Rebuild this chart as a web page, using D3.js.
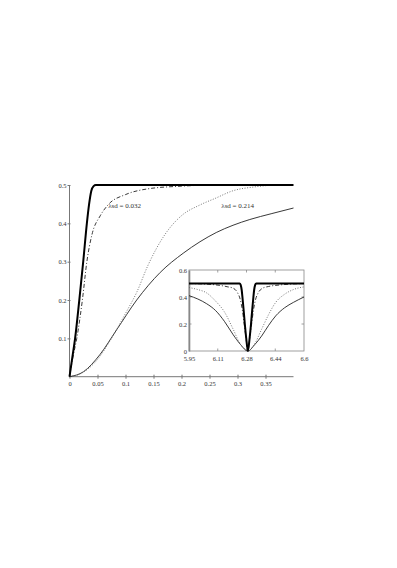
<!DOCTYPE html>
<html>
<head>
<meta charset="utf-8">
<script src="https://cdn.jsdelivr.net/npm/d3@7"></script>
<style>
  body { margin: 0; background: #fff; }
  svg text { font-family: "Liberation Serif", "DejaVu Serif", serif; fill: #333; }
</style>
</head>
<body>
<svg id="chart" width="397" height="568"></svg>
<script>
// main panel: x = detuning, y = value
const mainXTicks = [0, 0.05, 0.1, 0.15, 0.2, 0.25, 0.3, 0.35]
const mainYTicks = [0.1, 0.2, 0.3, 0.4, 0.5]

const mainThick = [[0,0],[0.005,0.05],[0.01,0.1],[0.0175,0.2],[0.0245,0.3],[0.031,0.4],[0.035,0.45],[0.039,0.485],[0.043,0.497],[0.047,0.5],[0.1,0.5],[0.2,0.5],[0.3,0.5],[0.4,0.5]]
const mainDashDot = [[0,0],[0.006,0.05],[0.013,0.1],[0.023,0.2],[0.031,0.3],[0.04,0.37],[0.055,0.42],[0.07,0.45],[0.1,0.475],[0.14,0.49],[0.2,0.497],[0.26,0.5],[0.4,0.5]]
const mainDotted = [[0,0],[0.02,0.008],[0.05,0.045],[0.075,0.1],[0.1,0.165],[0.12,0.22],[0.14,0.29],[0.17,0.37],[0.2,0.42],[0.233,0.448],[0.26,0.465],[0.292,0.485],[0.33,0.495],[0.376,0.5],[0.4,0.5]]
const mainThin = [[0,0],[0.025,0.013],[0.054,0.057],[0.084,0.122],[0.12,0.2],[0.162,0.272],[0.203,0.322],[0.233,0.352],[0.262,0.376],[0.292,0.395],[0.322,0.41],[0.36,0.425],[0.4,0.44]]

// inset panel
const insetXTicks = [5.95, 6.1125, 6.275, 6.4375, 6.6]
const insetXLabels = ["5.95", "6.11", "6.28", "6.44", "6.6"]
const insetYTicks = [0, 0.2, 0.4, 0.6]

const insetThick = [[5.95,0.5],[6.1,0.5],[6.236,0.5],[6.242,0.49],[6.248,0.45],[6.252,0.4],[6.259,0.3],[6.2655,0.2],[6.273,0.1],[6.283,0],[6.293,0.1],[6.3005,0.2],[6.307,0.3],[6.314,0.4],[6.318,0.45],[6.324,0.49],[6.33,0.5],[6.45,0.5],[6.6,0.5]]
const insetDashDot = [[5.95,0.5],[6.1,0.49],[6.17,0.475],[6.2,0.465],[6.225,0.43],[6.24,0.38],[6.252,0.3],[6.262,0.2],[6.272,0.1],[6.283,0],[6.294,0.1],[6.304,0.2],[6.314,0.3],[6.326,0.38],[6.341,0.43],[6.366,0.465],[6.4,0.478],[6.47,0.49],[6.6,0.5]]
const insetDotted = [[5.95,0.47],[6.0,0.455],[6.05,0.43],[6.1,0.37],[6.15,0.29],[6.2,0.16],[6.24,0.05],[6.283,0],[6.32,0.05],[6.36,0.16],[6.40,0.27],[6.44,0.36],[6.49,0.42],[6.54,0.455],[6.6,0.475]]
const insetThin = [[5.95,0.41],[6.0,0.385],[6.05,0.35],[6.1,0.3],[6.15,0.22],[6.2,0.12],[6.24,0.05],[6.283,0],[6.32,0.045],[6.36,0.11],[6.4,0.19],[6.44,0.26],[6.49,0.32],[6.54,0.36],[6.6,0.4]]

const styles = [
  {w: 2, dash: null, col: "#000"},
  {w: 0.9, dash: "4,2,1,2", col: "#222"},
  {w: 0.9, dash: "1,1.6", col: "#666"},
  {w: 0.9, dash: null, col: "#222"}
]

const svg = d3.select("#chart")

// ---- main panel ----
const x = d3.scaleLinear().domain([0, 0.4]).range([69.5, 293.5])
const y = d3.scaleLinear().domain([0, 0.5]).range([376.7, 185])

const axisCol = "#777"

const xAxis = svg.append("g").attr("transform", `translate(0,${y(0)})`)
  .call(d3.axisBottom(x).tickValues(mainXTicks).tickSize(0).tickPadding(5).tickFormat(d3.format("")))
xAxis.select(".domain").attr("stroke", axisCol).attr("d", `M${x(0)},0H${x(0.4)}`)
xAxis.selectAll(".tick line").attr("stroke", axisCol).attr("y1", -2).attr("y2", 2)
xAxis.selectAll(".tick text").attr("font-size", 6.5).attr("fill", "#333").attr("font-family", "Liberation Serif")

const yAxis = svg.append("g").attr("transform", `translate(${x(0)},0)`)
  .call(d3.axisLeft(y).tickValues(mainYTicks).tickSize(0).tickPadding(3).tickFormat(d3.format("")))
yAxis.select(".domain").attr("stroke", axisCol).attr("d", `M0,${y(0)}V${y(0.5)}`)
yAxis.selectAll(".tick line").attr("stroke", axisCol).attr("x1", -2).attr("x2", 1)
yAxis.selectAll(".tick text").attr("font-size", 6.5).attr("fill", "#333").attr("font-family", "Liberation Serif")

const mainLine = d3.line().x(d => x(d[0])).y(d => y(d[1])).curve(d3.curveMonotoneX)
const mainSeries = [mainThin, mainDotted, mainDashDot, mainThick]
const mainStyles = [styles[3], styles[2], styles[1], styles[0]]

svg.append("g").selectAll("path")
  .data(mainSeries)
  .enter().append("path")
  .attr("d", mainLine)
  .attr("fill", "none")
  .attr("stroke", (d, i) => mainStyles[i].col)
  .attr("stroke-width", (d, i) => mainStyles[i].w)
  .attr("stroke-dasharray", (d, i) => mainStyles[i].dash)

svg.append("text").attr("x", x(0.069)).attr("y", y(0.44)).attr("font-size", 7).text("λsd = 0.032")
svg.append("text").attr("x", x(0.271)).attr("y", y(0.44)).attr("font-size", 7).text("λsd = 0.214")

// ---- inset ----
const ix = d3.scaleLinear().domain([5.95, 6.6]).range([189, 304])
const iy = d3.scaleLinear().domain([0, 0.6]).range([351, 270])

const inset = svg.append("g")
inset.append("rect")
  .attr("x", ix(5.95)).attr("y", iy(0.6))
  .attr("width", ix(6.6) - ix(5.95)).attr("height", iy(0) - iy(0.6))
  .attr("fill", "#fff").attr("stroke", "#888").attr("stroke-width", 0.8)

const ixAxis = inset.append("g").attr("transform", `translate(0,${iy(0)})`)
  .call(d3.axisBottom(ix).tickValues(insetXTicks).tickSize(0).tickPadding(5).tickFormat((d, i) => insetXLabels[i]))
ixAxis.select(".domain").remove()
ixAxis.selectAll(".tick text").attr("font-size", 6.5).attr("fill", "#333").attr("font-family", "Liberation Serif")

const iyAxis = inset.append("g").attr("transform", `translate(${ix(5.95)},0)`)
  .call(d3.axisLeft(iy).tickValues(insetYTicks).tickSize(0).tickPadding(2).tickFormat(d3.format("")))
iyAxis.select(".domain").attr("stroke", "#888").attr("stroke-width", 1.6)
iyAxis.selectAll(".tick text").attr("font-size", 6.5).attr("fill", "#333").attr("font-family", "Liberation Serif")

// inward ticks on all four sides
const inTick = 2.5
inset.append("g").selectAll("line").data(insetXTicks.slice(1, -1)).enter().append("line")
  .attr("x1", d => ix(d)).attr("x2", d => ix(d)).attr("y1", iy(0.6)).attr("y2", iy(0.6) + inTick)
  .attr("stroke", "#888").attr("stroke-width", 0.8)
inset.append("g").selectAll("line").data(insetXTicks.slice(1, -1)).enter().append("line")
  .attr("x1", d => ix(d)).attr("x2", d => ix(d)).attr("y1", iy(0)).attr("y2", iy(0) - inTick)
  .attr("stroke", "#888").attr("stroke-width", 0.8)
inset.append("g").selectAll("line").data(insetYTicks.slice(1, -1)).enter().append("line")
  .attr("x1", ix(5.95)).attr("x2", ix(5.95) + inTick).attr("y1", d => iy(d)).attr("y2", d => iy(d))
  .attr("stroke", "#888").attr("stroke-width", 0.8)
inset.append("g").selectAll("line").data(insetYTicks.slice(1, -1)).enter().append("line")
  .attr("x1", ix(6.6)).attr("x2", ix(6.6) - inTick).attr("y1", d => iy(d)).attr("y2", d => iy(d))
  .attr("stroke", "#888").attr("stroke-width", 0.8)

const insetLine = d3.line().x(d => ix(d[0])).y(d => iy(d[1])).curve(d3.curveMonotoneX)
const insetSeries = [insetThin, insetDotted, insetDashDot, insetThick]

inset.append("g").selectAll("path")
  .data(insetSeries)
  .enter().append("path")
  .attr("d", insetLine)
  .attr("fill", "none")
  .attr("stroke", (d, i) => mainStyles[i].col)
  .attr("stroke-width", (d, i) => mainStyles[i].w)
  .attr("stroke-dasharray", (d, i) => mainStyles[i].dash)
</script>
</body>
</html>
